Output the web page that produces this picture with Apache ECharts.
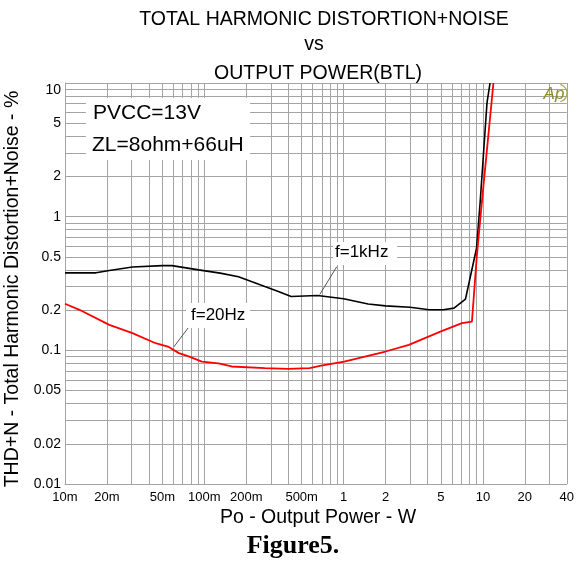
<!DOCTYPE html>
<html>
<head>
<meta charset="utf-8">
<title>THD+N vs Output Power (BTL)</title>
<script src="https://cdn.jsdelivr.net/npm/echarts@6/dist/echarts.min.js"></script>
<style>
  html, body { margin: 0; padding: 0; background: #fff; }
  #chart { width: 577px; height: 562px; }
</style>
</head>
<body>
<div id="chart"></div>
<script>
// f=1kHz curve (black): output power in W, THD+N in %
var power1k = [0.01, 0.0167, 0.0208, 0.0305, 0.05, 0.0585, 0.091, 0.13, 0.176, 0.272, 0.34, 0.42, 0.65, 1.0, 1.5, 2.0, 3.0, 4.1, 5.2, 6.2, 7.5, 9.0, 9.55, 10.7, 11.25];
var thd1k   = [0.38, 0.38, 0.396, 0.42, 0.43, 0.43, 0.40, 0.378, 0.355, 0.30, 0.276, 0.253, 0.257, 0.243, 0.222, 0.215, 0.21, 0.201, 0.201, 0.207, 0.242, 0.58, 1.27, 7.1, 10];

// f=20Hz curve (red)
var power20 = [0.01, 0.0127, 0.0208, 0.0305, 0.0447, 0.0556, 0.0657, 0.0772, 0.096, 0.1265, 0.157, 0.272, 0.4, 0.57, 0.69, 1.01, 2.0, 2.94, 4.95, 7.07, 8.34, 8.57, 9.04, 9.82, 11.9];
var thd20   = [0.223, 0.201, 0.155, 0.1345, 0.113, 0.106, 0.0953, 0.090, 0.0824, 0.080, 0.0757, 0.0735, 0.0727, 0.0735, 0.0769, 0.0824, 0.098, 0.11, 0.138, 0.16, 0.164, 0.239, 0.505, 1.27, 10];

// tick labels
var xLabels = [0.01, 0.02, 0.05, 0.1, 0.2, 0.5, 1, 2, 5, 10, 20, 40];
var yLabels = [0.01, 0.02, 0.05, 0.1, 0.2, 0.5, 1, 2, 5, 10];

// grid lines at 1..9 of every decade
var xGrid = [];
[0.01, 0.1, 1].forEach(function (d) {
  for (var k = 1; k <= 9; k++) xGrid.push(+(d * k).toPrecision(6));
});
xGrid.push(10, 20, 30, 40);
var yGrid = [];
[0.01, 0.1, 1].forEach(function (d) {
  for (var k = 1; k <= 9; k++) yGrid.push(+(d * k).toPrecision(6));
});
yGrid.push(10);

function pairs(xs, ys) {
  return xs.map(function (x, i) { return [x, ys[i]]; });
}

var gridGray = '#a4a4a4';
var sans = 'Liberation Sans';

var chart = echarts.init(document.getElementById('chart'));
chart.setOption({
  animation: false,
  backgroundColor: '#fff',
  grid: { left: 65, right: 7, top: 83, bottom: 78 },
  xAxis: {
    type: 'log',
    logBase: 10,
    min: 0.01,
    max: 40,
    axisLine: { show: true, lineStyle: { color: gridGray, width: 1 } },
    axisTick: { show: false, customValues: xGrid },
    axisLabel: {
      customValues: xLabels,
      color: '#000',
      fontFamily: sans,
      fontSize: 13,
      margin: 7,
      formatter: function (v) {
        v = +(+v).toPrecision(6);
        return v < 1 ? Math.round(v * 1000) + 'm' : String(Math.round(v));
      }
    },
    splitLine: { show: true, lineStyle: { color: gridGray, width: 1 } }
  },
  yAxis: {
    type: 'log',
    logBase: 10,
    min: 0.01,
    max: 10,
    axisLine: { show: true, lineStyle: { color: gridGray, width: 1 } },
    axisTick: { show: false, customValues: yGrid },
    axisLabel: {
      customValues: yLabels,
      color: '#000',
      fontFamily: sans,
      fontSize: 14,
      margin: 4,
      verticalAlignMaxLabel: 'top',
      formatter: function (v) { return String(+(+v).toPrecision(6)); }
    },
    splitLine: { show: true, lineStyle: { color: gridGray, width: 1 } }
  },
  series: [
    {
      name: 'f=1kHz',
      type: 'line',
      data: pairs(power1k, thd1k),
      showSymbol: false,
      lineStyle: { color: '#000', width: 1.6 },
      z: 3,
      markLine: {
        silent: true,
        symbol: 'none',
        label: { show: false },
        lineStyle: { color: '#555', width: 1, type: 'solid' },
        data: [[{ coord: [0.893, 0.422] }, { coord: [0.675, 0.262] }]]
      }
    },
    {
      name: 'f=20Hz',
      type: 'line',
      data: pairs(power20, thd20),
      showSymbol: false,
      lineStyle: { color: '#ff0000', width: 1.8 },
      z: 4,
      markLine: {
        silent: true,
        symbol: 'none',
        label: { show: false },
        lineStyle: { color: '#555', width: 1, type: 'solid' },
        data: [[{ coord: [0.0795, 0.155] }, { coord: [0.0604, 0.106] }]]
      }
    }
  ],
  graphic: [
    { type: 'text', x: 324, y: 20, z: 100, style: { text: 'TOTAL HARMONIC DISTORTION+NOISE', font: '19.5px ' + sans, fill: '#000', textAlign: 'center', textVerticalAlign: 'middle' } },
    { type: 'text', x: 314, y: 45, z: 100, style: { text: 'vs', font: '19.5px ' + sans, fill: '#000', textAlign: 'center', textVerticalAlign: 'middle' } },
    { type: 'text', x: 318, y: 74, z: 100, style: { text: 'OUTPUT POWER(BTL)', font: '19.5px ' + sans, fill: '#000', textAlign: 'center', textVerticalAlign: 'middle' } },
    { type: 'text', x: 318, y: 518, z: 100, style: { text: 'Po - Output Power - W', font: '19.5px ' + sans, fill: '#000', textAlign: 'center', textVerticalAlign: 'middle' } },
    { type: 'text', x: 293, y: 546, z: 100, style: { text: 'Figure5.', font: 'bold 26px "Liberation Serif"', fill: '#000', textAlign: 'center', textVerticalAlign: 'middle' } },
    { type: 'text', x: 13, y: 289, rotation: Math.PI / 2, z: 100, style: { text: 'THD+N - Total Harmonic Distortion+Noise - %', font: '19.5px ' + sans, fill: '#000', textAlign: 'center', textVerticalAlign: 'middle' } },

    { type: 'rect', z: 90, shape: { x: 86, y: 98, width: 164, height: 62 }, style: { fill: '#fff' } },
    { type: 'text', x: 93, y: 113, z: 100, style: { text: 'PVCC=13V', font: '21px ' + sans, fill: '#000', textVerticalAlign: 'middle' } },
    { type: 'text', x: 92, y: 145, z: 100, style: { text: 'ZL=8ohm+66uH', font: '21px ' + sans, fill: '#000', textVerticalAlign: 'middle' } },

    { type: 'rect', z: 90, shape: { x: 333, y: 242, width: 64, height: 23 }, style: { fill: '#fff' } },
    { type: 'text', x: 335, y: 252, z: 100, style: { text: 'f=1kHz', font: '17px ' + sans, fill: '#000', textVerticalAlign: 'middle' } },
    { type: 'rect', z: 90, shape: { x: 186, y: 303, width: 64, height: 25 }, style: { fill: '#fff' } },
    { type: 'text', x: 191, y: 315, z: 100, style: { text: 'f=20Hz', font: '17px ' + sans, fill: '#000', textVerticalAlign: 'middle' } },

    { type: 'text', x: 554, y: 94, z: 100, style: { text: 'Ap', font: 'italic 17px ' + sans, fill: '#8c8c2a', textAlign: 'center', textVerticalAlign: 'middle' } },
    { type: 'arc', z: 100, shape: { cx: 558, cy: 93, r: 9, startAngle: -Math.PI / 2.4, endAngle: Math.PI / 2.4 }, style: { stroke: '#a8a858', lineWidth: 1.3, fill: null } }
  ]
});
</script>
</body>
</html>
